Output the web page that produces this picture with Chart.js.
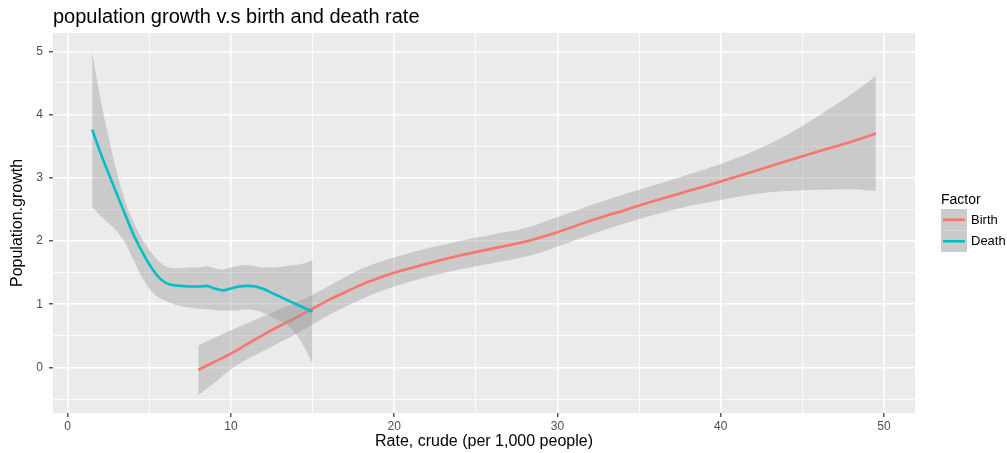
<!DOCTYPE html>
<html>
<head>
<meta charset="utf-8">
<script src="https://cdn.jsdelivr.net/npm/chart.js@4.4.0/dist/chart.umd.min.js"></script>
<style>
  body { margin: 0; background: #fff; }
  #wrap { width: 1007px; height: 453px; }
</style>
</head>
<body>
<div id="wrap"><canvas id="growthChart" width="1007" height="453"></canvas></div>
<script>
  // smoothed fits (x = crude rate, y = population growth)
  let birthX = [8, 9, 10, 11, 12, 13, 14, 15, 16, 17, 18, 19, 20, 22, 24, 26, 28, 30, 32, 34, 36, 38, 40, 42, 44, 46, 48, 49.5];
  let birthFit = [-0.04, 0.09, 0.22, 0.37, 0.52, 0.66, 0.79, 0.93, 1.07, 1.19, 1.31, 1.41, 1.50, 1.64, 1.77, 1.88, 1.99, 2.14, 2.32, 2.48, 2.64, 2.79, 2.94, 3.10, 3.26, 3.42, 3.57, 3.70];
  let birthHi = [0.35, 0.47, 0.59, 0.70, 0.81, 0.92, 1.03, 1.15, 1.29, 1.43, 1.56, 1.66, 1.74, 1.88, 2.00, 2.10, 2.20, 2.38, 2.56, 2.73, 2.89, 3.05, 3.22, 3.42, 3.67, 3.98, 4.32, 4.61];
  let birthLo = [-0.44, -0.24, -0.03, 0.13, 0.26, 0.40, 0.53, 0.68, 0.83, 0.96, 1.08, 1.19, 1.28, 1.43, 1.55, 1.65, 1.75, 1.91, 2.10, 2.27, 2.42, 2.55, 2.65, 2.74, 2.79, 2.81, 2.82, 2.79];

  let deathX = [1.5, 2, 2.5, 3, 3.5, 4, 4.5, 5, 5.5, 6, 6.5, 7, 7.5, 8, 8.5, 9, 9.5, 10, 10.5, 11, 11.5, 12, 12.5, 13, 13.5, 14, 14.5, 15];
  let deathFit = [3.76, 3.40, 3.07, 2.75, 2.43, 2.12, 1.86, 1.63, 1.45, 1.34, 1.30, 1.29, 1.28, 1.28, 1.29, 1.25, 1.22, 1.25, 1.28, 1.29, 1.28, 1.24, 1.18, 1.12, 1.06, 1.00, 0.94, 0.88];
  let deathHi = [4.98, 4.25, 3.65, 3.10, 2.64, 2.32, 2.06, 1.86, 1.70, 1.60, 1.57, 1.57, 1.58, 1.58, 1.60, 1.57, 1.55, 1.58, 1.61, 1.62, 1.60, 1.58, 1.58, 1.59, 1.61, 1.62, 1.65, 1.70];
  let deathLo = [2.54, 2.40, 2.28, 2.16, 1.98, 1.72, 1.45, 1.25, 1.12, 1.05, 1.00, 0.97, 0.95, 0.93, 0.92, 0.91, 0.90, 0.90, 0.91, 0.92, 0.90, 0.86, 0.80, 0.74, 0.66, 0.52, 0.32, 0.05];

  let xTicks = [0, 5, 10, 15, 20, 25, 30, 35, 40, 45, 50];
  let yTicks = [-0.5, 0, 0.5, 1, 1.5, 2, 2.5, 3, 3.5, 4, 4.5, 5];

  let seriesNames = ["Birth", "Death"];
  let seriesColors = ["#F8766D", "#00BFC4"];
  let bandColor = "rgba(153,153,153,0.4)";
  let fontFamily = "'Liberation Sans', Arial, Helvetica, sans-serif";

  function pts(xs, ys) {
    return xs.map((x, i) => ({ x: x, y: ys[i] }));
  }

  function band(xs, ys, order, fill) {
    return {
      data: pts(xs, ys),
      borderWidth: 0,
      pointRadius: 0,
      backgroundColor: bandColor,
      fill: fill,
      cubicInterpolationMode: "monotone",
      order: order,
    };
  }

  function fit(xs, ys, color, order) {
    return {
      data: pts(xs, ys),
      borderColor: color,
      borderWidth: 2.6,
      pointRadius: 0,
      fill: false,
      cubicInterpolationMode: "monotone",
      order: order,
    };
  }

  // gray panel behind the grid
  const panelBg = {
    id: "panelBg",
    beforeDraw(chart) {
      const a = chart.chartArea, c = chart.ctx;
      c.save();
      c.fillStyle = "#EBEBEB";
      c.fillRect(a.left, a.top, a.right - a.left, a.bottom - a.top);
      c.restore();
    },
  };

  // title, axis titles and legend like ggplot
  const labels = {
    id: "labels",
    afterDraw(chart) {
      const c = chart.ctx, a = chart.chartArea;
      c.save();
      c.fillStyle = "#000";
      c.textBaseline = "middle";
      c.font = "20px " + fontFamily;
      c.textAlign = "left";
      c.fillText("population growth v.s birth and death rate", a.left, 17);

      c.font = "16px " + fontFamily;
      c.textAlign = "center";
      c.fillText("Rate, crude (per 1,000 people)", (a.left + a.right) / 2, 442);
      c.save();
      c.translate(18, (a.top + a.bottom) / 2);
      c.rotate(-Math.PI / 2);
      c.fillText("Population.growth", 0, 0);
      c.restore();

      // legend
      c.textAlign = "left";
      c.font = "14px " + fontFamily;
      c.fillText("Factor", 941, 200);
      c.font = "13px " + fontFamily;
      seriesNames.forEach((name, i) => {
        const y = 209 + i * 21.5;
        c.fillStyle = "#CBCBCB";
        c.fillRect(941, y, 26, 21.5);
        c.strokeStyle = seriesColors[i];
        c.lineWidth = 2.6;
        c.beginPath();
        c.moveTo(943, y + 10.75);
        c.lineTo(965, y + 10.75);
        c.stroke();
        c.fillStyle = "#000";
        c.fillText(name, 971, y + 11);
      });
      c.restore();
    },
  };

  const ctx = document.getElementById("growthChart").getContext("2d");
  new Chart(ctx, {
    type: "line",
    data: {
      datasets: [
        band(birthX, birthLo, 5, false),
        band(birthX, birthHi, 4, "-1"),
        fit(birthX, birthFit, seriesColors[0], 3),
        band(deathX, deathLo, 2, false),
        band(deathX, deathHi, 1, "-1"),
        fit(deathX, deathFit, seriesColors[1], 0),
      ],
    },
    options: {
      responsive: false,
      animation: false,
      layout: { padding: { top: 33, right: 92, left: 0, bottom: 0 } },
      plugins: {
        legend: { display: false },
        tooltip: { enabled: false },
        title: { display: false },
      },
      scales: {
        x: {
          type: "linear",
          min: -0.9,
          max: 51.9,
          afterBuildTicks: (s) => { s.ticks = xTicks.map((v) => ({ value: v })); },
          afterFit: (s) => { s.height = 40; },
          border: { display: false },
          grid: {
            color: "#FFFFFF",
            lineWidth: (c) => (c.tick && c.tick.value % 10 === 0 ? 1.6 : 0.8),
            tickColor: (c) => (c.tick && c.tick.value % 10 === 0 ? "#333333" : "rgba(0,0,0,0)"),
            tickLength: 4,
            tickWidth: 1.2,
          },
          ticks: {
            autoSkip: false,
            maxRotation: 0,
            padding: 2,
            color: "#4D4D4D",
            font: { family: fontFamily, size: 12 },
            callback: (v) => (v % 10 === 0 ? String(v) : ""),
          },
        },
        y: {
          type: "linear",
          min: -0.72,
          max: 5.29,
          afterBuildTicks: (s) => { s.ticks = yTicks.map((v) => ({ value: v })); },
          afterFit: (s) => { s.width = 53; },
          border: { display: false },
          grid: {
            color: "#FFFFFF",
            lineWidth: (c) => (c.tick && Number.isInteger(c.tick.value) ? 1.6 : 0.8),
            tickColor: (c) => (c.tick && Number.isInteger(c.tick.value) ? "#333333" : "rgba(0,0,0,0)"),
            tickLength: 4,
            tickWidth: 1.2,
          },
          ticks: {
            autoSkip: false,
            padding: 6,
            color: "#4D4D4D",
            font: { family: fontFamily, size: 12 },
            callback: (v) => (Number.isInteger(v) ? String(v) : ""),
          },
        },
      },
    },
    plugins: [panelBg, labels],
  });
</script>
</body>
</html>
